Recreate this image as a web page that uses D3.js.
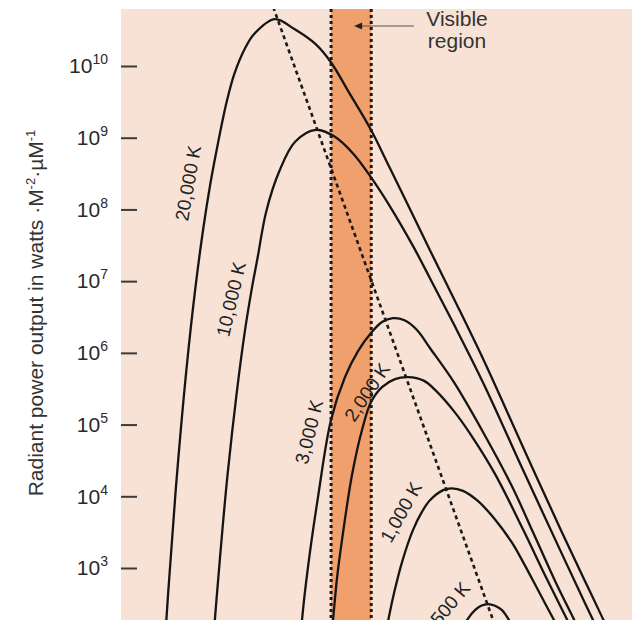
<!DOCTYPE html>
<html>
<head>
<meta charset="utf-8">
<script src="https://cdn.jsdelivr.net/npm/d3@7"></script>
<style>
  body { margin: 0; background: #fff; }
  svg { display: block; font-family: "Liberation Sans", Arial, Helvetica, sans-serif; }
</style>
</head>
<body>
<svg id="chart"></svg>
<script>
// wavelength in micrometres, radiant output in W·m^-2·µm^-1
const curve20000 = [[0.0216, 28], [0.0238, 460], [0.027, 1.2e4], [0.0324, 5.9e5], [0.0378, 8.4e6],
    [0.0432, 5.6e7], [0.0486, 2.3e8], [0.054, 6.7e8], [0.0636, 3.0e9], [0.0728, 7.7e9],
    [0.0876, 1.78e10], [0.102, 2.8e10], [0.145, 4.5e10], [0.2, 3.3e10], [0.29, 2.0e10],
    [0.375, 1.12e10], [0.5, 4.5e9], [0.738, 1.28e9], [1.0, 4.0e8], [1.5, 8.3e7], [2.0, 2.7e7],
    [3.0, 5.7e6], [5.0, 7.7e5], [9.6, 5.0e4], [18.6, 3.2e3], [27.9, 630], [37.2, 200], [41.9, 126]];
const curve10000 = [[0.0518, 141], [0.054, 381], [0.0594, 3.2e3], [0.0648, 1.9e4], [0.0756, 2.6e5],
    [0.0864, 1.8e6], [0.0972, 7.2e6], [0.108, 2.1e7], [0.125, 9.3e7], [0.156, 3.4e8], [0.204, 8.8e8],
    [0.29, 1.29e9], [0.40, 1.03e9], [0.55, 5.9e8], [0.738, 2.8e8], [1.0, 1.16e8], [1.5, 3.1e7],
    [2.0, 1.1e7], [3.0, 2.5e6], [5.0, 3.6e5], [9.6, 2.4e4], [18.6, 1.6e3], [27.9, 310], [37.2, 100]];
const curve3000 = [[0.2216, 72], [0.2293, 188], [0.2537, 1030], [0.3006, 9750], [0.3745, 1.16e5],
    [0.4748, 4.6e5], [0.5918, 1.06e6], [0.7375, 1.89e6], [0.888, 2.69e6], [1.07, 3.05e6],
    [1.3, 2.85e6], [1.6, 2.1e6], [2.0, 1.17e6], [3.0, 3.9e5], [5.0, 7.4e4], [8.0, 1.39e4],
    [11.5, 3.1e3], [16.7, 650], [23.3, 180], [27.9, 89]];
const curve2000 = [[0.368, 72], [0.3876, 188], [0.4147, 723], [0.4511, 2450], [0.5344, 1.98e4],
    [0.633, 8.4e4], [0.7375, 2.06e5], [0.888, 3.33e5], [1.107, 4.31e5], [1.38, 4.59e5],
    [1.8, 4.1e5], [2.2, 3.0e5], [3.0, 1.54e5], [4.0, 7.2e4], [6.0, 2.07e4], [9.6, 3.55e3],
    [14.0, 800], [18.6, 270], [23.3, 115]];
const curve1000 = [[0.9, 72], [1.0, 211], [1.1, 484], [1.25, 1230], [1.5, 3370], [1.75, 6100],
    [2.0, 8800], [2.5, 1.22e4], [2.9, 1.29e4], [3.5, 1.19e4], [4.5, 8600], [6.0, 4800],
    [8.0, 2270], [9.8, 1160], [13.3, 390], [17.1, 160], [19.0, 110]];
const curve500 = [[3.33, 126], [3.81, 197], [4.29, 258], [4.75, 297], [5.35, 314], [6.02, 297],
    [6.77, 258], [7.76, 178], [8.88, 110]];

const curves = [curve20000, curve10000, curve3000, curve2000, curve1000, curve500];
const curveNames = ["20,000 K", "10,000 K", "3,000 K", "2,000 K", "1,000 K", "500 K"];
// where each name sits, in data units
const labelAt = [[0.0333, 2.33e8], [0.0689, 5.6e6], [0.258, 7.9e4], [0.689, 2.84e5], [1.225, 6.0e3], [2.81, 320]];

// line through the peaks (Wien's law) and the visible band
const wienLine = [[0.135, 8.3e10], [6.19, 136]];
const visibleBand = [0.375, 0.74];

const tickExponents = [3, 4, 5, 6, 7, 8, 9, 10];
const xDomain = [0.0107, 61.2];
const yDomain = [1e3, 1e10];

const width = 636, height = 620;
const plot = { left: 121, right: 632, top: 9, bottom: 620 };
const labelAngle = [-80, -77, -76, -56, -61, -50];

const svg = d3.select("#chart")
    .attr("width", width)
    .attr("height", height);

const xScale = d3.scaleLog().domain(xDomain).range([plot.left, plot.right]);
const yScale = d3.scaleLog().domain(yDomain).range([568, 66]);

svg.append("clipPath")
    .attr("id", "plot-clip")
    .append("rect")
    .attr("x", plot.left)
    .attr("y", plot.top)
    .attr("width", plot.right - plot.left)
    .attr("height", plot.bottom - plot.top);

// background
svg.append("rect")
    .attr("x", plot.left)
    .attr("y", plot.top)
    .attr("width", plot.right - plot.left)
    .attr("height", plot.bottom - plot.top)
    .attr("fill", "#f7e2d5");

// visible region
const bandX0 = xScale(visibleBand[0]);
const bandX1 = xScale(visibleBand[1]);
svg.append("rect")
    .attr("x", bandX0)
    .attr("y", plot.top)
    .attr("width", bandX1 - bandX0)
    .attr("height", plot.bottom - plot.top)
    .attr("fill", "#f0a06d");

const plotG = svg.append("g").attr("clip-path", "url(#plot-clip)");

const lineGen = d3.line()
    .x(d => xScale(d[0]))
    .y(d => yScale(d[1]))
    .curve(d3.curveCatmullRom.alpha(0.5));

plotG.selectAll(".bb-curve")
    .data(curves)
    .join("path")
    .attr("class", "bb-curve")
    .attr("d", lineGen)
    .attr("fill", "none")
    .attr("stroke", "#151515")
    .attr("stroke-width", 2.3);

// dotted edges of the band
for (let b of visibleBand) {
    plotG.append("line")
        .attr("x1", xScale(b)).attr("x2", xScale(b))
        .attr("y1", plot.top).attr("y2", plot.bottom)
        .attr("stroke", "#1a1a1a")
        .attr("stroke-width", 3)
        .attr("stroke-dasharray", "3,3");
}

plotG.append("path")
    .attr("d", d3.line().x(d => xScale(d[0])).y(d => yScale(d[1]))(wienLine))
    .attr("fill", "none")
    .attr("stroke", "#1a1a1a")
    .attr("stroke-width", 2.6)
    .attr("stroke-dasharray", "4,3.5");

// curve names
svg.selectAll(".bb-label")
    .data(curveNames)
    .join("text")
    .attr("class", "bb-label")
    .attr("transform", (d, i) => "translate(" + xScale(labelAt[i][0]) + "," + yScale(labelAt[i][1]) + ") rotate(" + labelAngle[i] + ")")
    .attr("text-anchor", "middle")
    .attr("dy", "0.35em")
    .attr("font-size", 19)
    .attr("fill", "#222")
    .text(d => d);

// y axis: ticks point into the plot
const yAxis = d3.axisLeft(yScale)
    .tickValues(tickExponents.map(e => Math.pow(10, e)))
    .tickSizeInner(-16)
    .tickSizeOuter(0)
    .tickPadding(13);

const axisG = svg.append("g")
    .attr("transform", "translate(" + plot.left + ",0)")
    .call(yAxis)
    .attr("font-size", 21)
    .attr("font-family", null);
axisG.select(".domain").remove();
axisG.selectAll(".tick line")
    .attr("stroke", "#3a3a3a")
    .attr("stroke-width", 2);
axisG.selectAll(".tick text")
    .attr("fill", "#2a2a2a")
    .each(function (d) {
        const t = d3.select(this);
        t.text(null);
        t.append("tspan").text("10");
        t.append("tspan")
            .attr("dy", -9)
            .attr("font-size", 14)
            .text(Math.round(Math.log10(d)));
    });

// y axis title
const title = svg.append("text")
    .attr("transform", "translate(43,313) rotate(-90)")
    .attr("text-anchor", "middle")
    .attr("font-size", 21)
    .attr("fill", "#333");
title.append("tspan").text("Radiant power output in watts \u00b7M");
title.append("tspan").attr("dy", -8).attr("font-size", 13).text("-2");
title.append("tspan").attr("dy", 8).text("\u00b7\u00b5M");
title.append("tspan").attr("dy", -8).attr("font-size", 13).text("-1");

// "Visible region" note with arrow
const noteX = 457;
const note = svg.append("text")
    .attr("text-anchor", "middle")
    .attr("font-size", 21)
    .attr("fill", "#333");
note.append("tspan").attr("x", noteX).attr("y", 26).text("Visible");
note.append("tspan").attr("x", noteX).attr("y", 48).text("region");

const tipX = (bandX0 + bandX1) / 2 + 3;
svg.append("line")
    .attr("x1", 414).attr("x2", tipX + 6)
    .attr("y1", 26).attr("y2", 26)
    .attr("stroke", "#555")
    .attr("stroke-width", 1.2);
svg.append("path")
    .attr("d", "M" + tipX + ",26 L" + (tipX + 8) + ",22.5 L" + (tipX + 8) + ",29.5 Z")
    .attr("fill", "#222");
</script>
</body>
</html>
